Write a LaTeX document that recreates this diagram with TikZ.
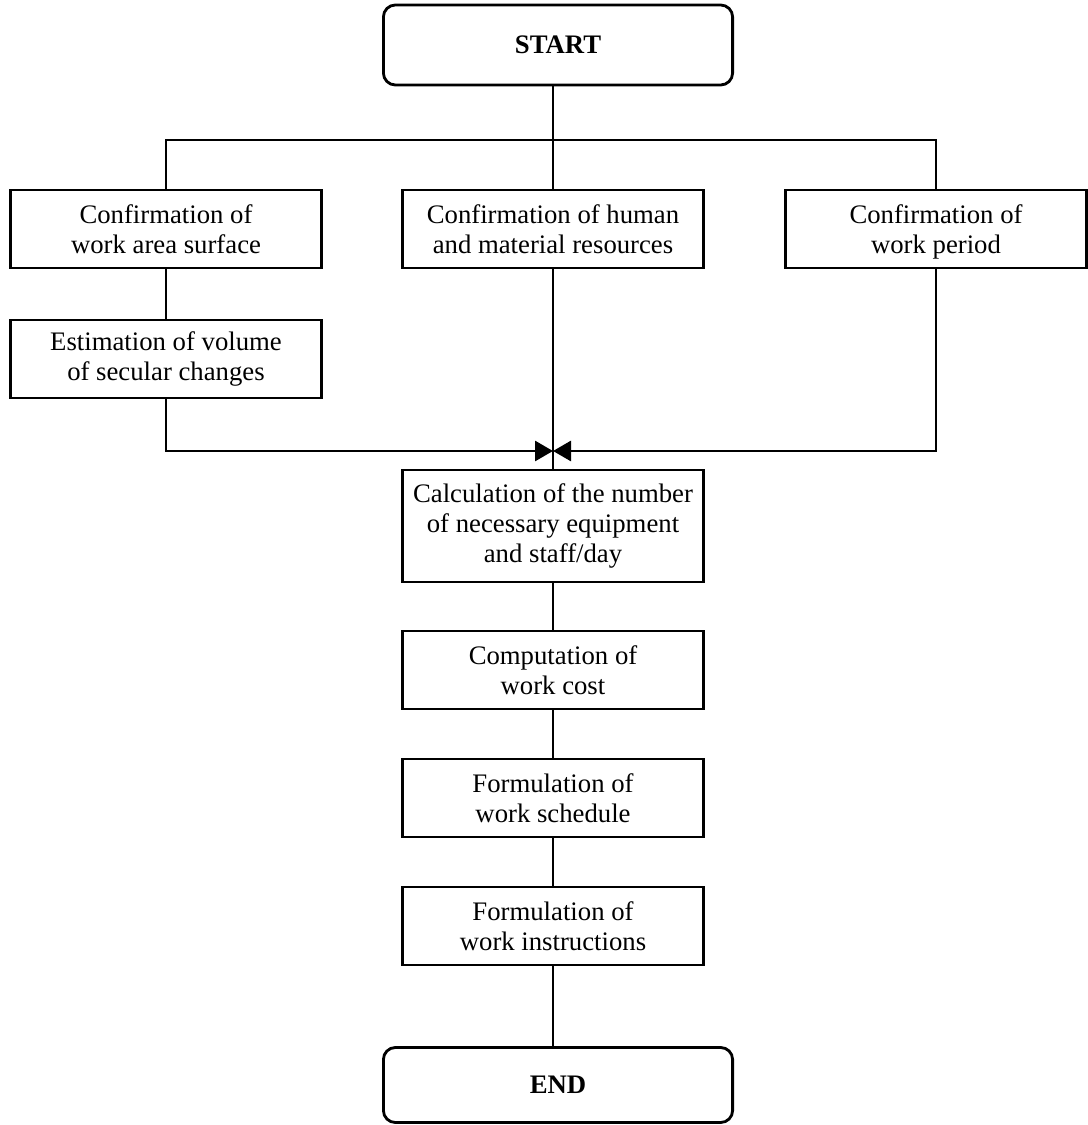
\documentclass[tikz,border=0pt]{standalone}
\usepackage{fontspec}
\setmainfont{Liberation Serif}
\usetikzlibrary{arrows.meta,positioning}

\begin{document}
\begin{tikzpicture}[x=0.01cm,y=-0.01cm,
  box/.style={draw,line width=0.8pt,align=center,minimum width=3.01cm,minimum height=0.78cm,inner sep=1pt,font=\fontsize{7.6}{8.6}\selectfont},
  term/.style={box,rounded corners=0.12cm,minimum width=3.49cm,minimum height=0.8cm,font=\fontsize{7.6}{8.6}\selectfont\bfseries},
  link/.style={line width=0.8pt},
  meet/.style={link,-{Triangle[length=0.18cm,width=0.2cm]}}]
  \useasboundingbox (0,0) rectangle (1087,1125);
  % top
  \node[term] (start) at (558,45) {START};
  \node[box,minimum width=3.11cm] (area) at (166,229) {Confirmation of\\work area surface};
  \node[box] (res) at (553,229) {Confirmation of human\\and material resources};
  \node[box] (period) at (936,229) {Confirmation of\\work \smash{p}eriod};
  \node[box,minimum width=3.11cm] (vol) at (166,359) {Estimation of volume\\of secular changes};
  \coordinate (split) at (553,140);
  \coordinate (join) at (553,451);
  % main column
  \node[box,minimum height=1.12cm] (calc) at (553,526) {Calculation of the number\\of necessary equipment\\and staff/day};
  \node[box] (cost) at (553,670) {Computation of\\work cost};
  \node[box] (sched) at (553,798) {Formulation of\\work schedule};
  \node[box] (instr) at (553,926) {Formulation of\\work instructions};
  \node[term,minimum height=0.75cm] (end) at (558,1085) {END};

  \draw[link] (start.south -| split) -- (split);
  \draw[link] (area.north) |- (split) -| (period.north);
  \draw[link] (split) -- (res.north);
  \draw[link] (area) -- (vol);
  \draw[link] (res.south) -- (calc.north);
  \draw[meet] (vol.south) |- (join);
  \draw[meet] (period.south) |- (join);
  \draw[link] (calc) -- (cost);
  \draw[link] (cost) -- (sched);
  \draw[link] (sched) -- (instr);
  \draw[link] (instr.south) -- (instr.south |- end.north);
\end{tikzpicture}
\end{document}
